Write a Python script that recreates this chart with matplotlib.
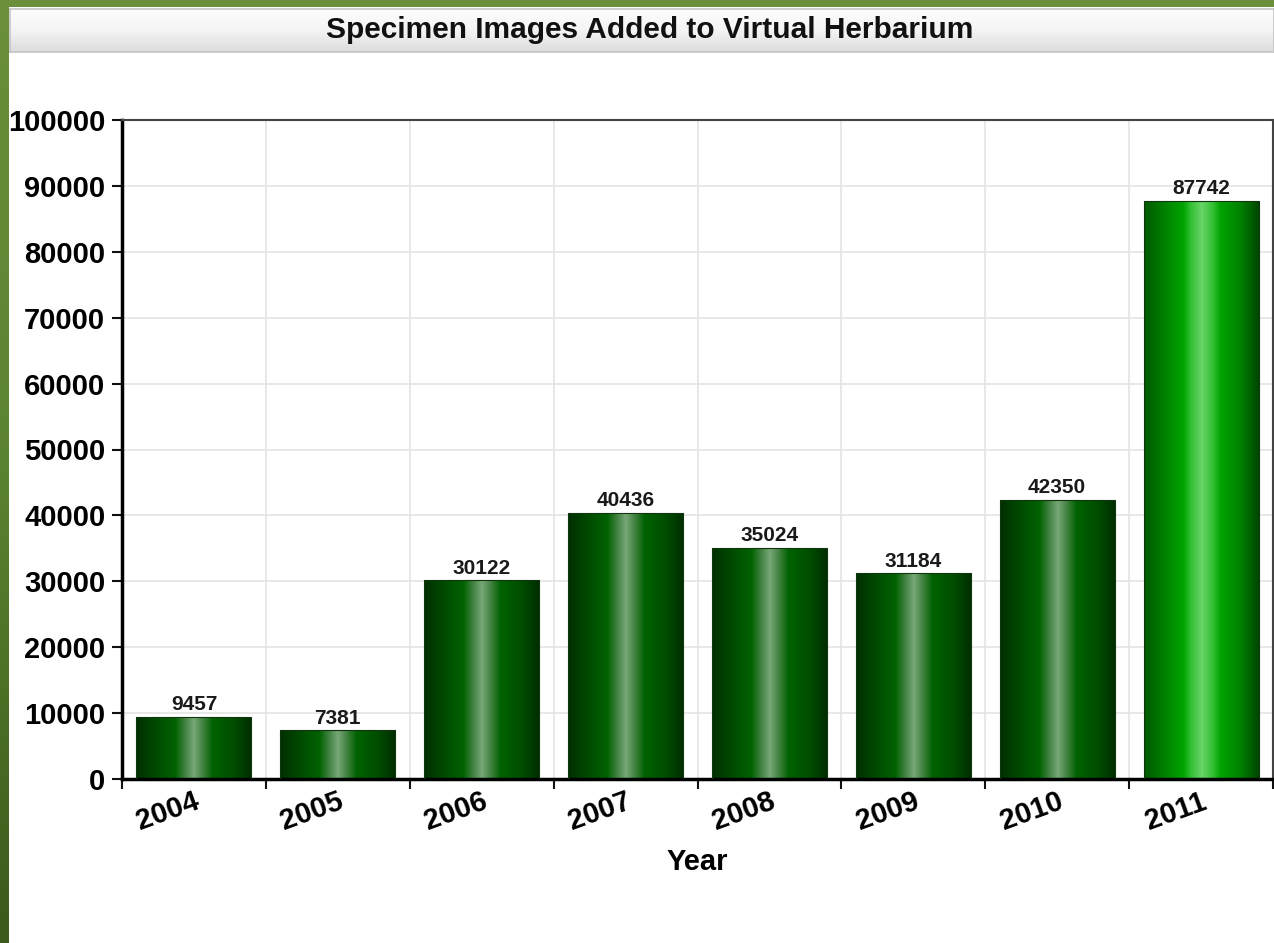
import numpy as np
import matplotlib.pyplot as plt
from matplotlib.colors import LinearSegmentedColormap
from matplotlib.patches import Rectangle

# data
years = ['2004', '2005', '2006', '2007', '2008', '2009', '2010', '2011']
images = [9457, 7381, 30122, 40436, 35024, 31184, 42350, 87742]
y_ticks = list(range(0, 100001, 10000))

plt.rcParams['font.family'] = ['Liberation Sans', 'DejaVu Sans']

W, H = 1274, 943
fig = plt.figure(figsize=(W / 100, H / 100), dpi=100)

# green page frame (left strip + top strip)
frame_cmap = LinearSegmentedColormap.from_list('frame', ['#6b8f3a', '#5a8330', '#3c5a1b'])
edge = fig.add_axes([0, 0, 9 / W, 1])
edge.imshow(np.linspace(0, 1, 200).reshape(-1, 1), aspect='auto', cmap=frame_cmap)
edge.axis('off')
fig.add_artist(Rectangle((0, 1 - 7 / H), 1, 7 / H, transform=fig.transFigure,
                         color='#6b8f3a', lw=0))

# title bar
tbox = fig.add_axes([10 / W, 1 - 52 / H, (W - 10) / W, 43 / H])
title_cmap = LinearSegmentedColormap.from_list('tbar', ['#fdfdfd', '#f4f4f4', '#dcdcdc'])
tbox.imshow(np.linspace(0, 1, 50).reshape(-1, 1), aspect='auto', cmap=title_cmap,
            extent=[0, 1, 0, 1])
tbox.set_xlim(0, 1)
tbox.set_ylim(0, 1)
tbox.set_xticks([])
tbox.set_yticks([])
for s in tbox.spines.values():
    s.set_color('#c4c4c4')
    s.set_linewidth(1.2)
tbox.text(0.506, 0.5, 'Specimen Images Added to Virtual Herbarium', ha='center',
          va='center', fontsize=21.5, fontweight='bold', color='#111111')

# main chart
ax = fig.add_axes([122 / W, 1 - 779 / H, 1151 / W, 659 / H])
x = np.arange(len(years))

bars = ax.bar(x, images, width=0.8, color='none', edgecolor='#103510',
              linewidth=0.8, zorder=3)

dark_cmap = LinearSegmentedColormap.from_list('dark', [
    (0.0, '#002f00'), (0.22, '#005200'), (0.34, '#006200'), (0.42, '#3f803f'),
    (0.5, '#78a878'), (0.58, '#3f803f'), (0.66, '#006200'), (0.84, '#004e00'),
    (1.0, '#002c00')])
bright_cmap = LinearSegmentedColormap.from_list('bright', [
    (0.0, '#005800'), (0.2, '#008600'), (0.34, '#00a400'), (0.4, '#30bf30'),
    (0.5, '#68d468'), (0.6, '#30bf30'), (0.66, '#00a400'), (0.84, '#008000'),
    (1.0, '#004200')])

grad = np.linspace(0, 1, 256).reshape(1, -1)
for i, b in enumerate(bars):
    cm = bright_cmap if years[i] == '2011' else dark_cmap
    im = ax.imshow(grad, aspect='auto', cmap=cm, zorder=2.5,
                   extent=[b.get_x(), b.get_x() + b.get_width(), 0, b.get_height()])
    im.set_clip_path(b)

ax.bar_label(bars, padding=2, fontsize=15, fontweight='bold', color='#1a1a1a')

ax.set_xlim(-0.5, len(years) - 0.5)
ax.set_ylim(0, 100000)

ax.set_xticks(x)
ax.set_xticklabels(years, rotation=20, ha='right', rotation_mode='anchor',
                   fontsize=21, fontweight='bold')
ax.set_xticks(np.arange(-0.5, len(years), 1), minor=True)
ax.tick_params(axis='x', which='major', length=0, pad=6)
ax.tick_params(axis='x', which='minor', length=7, width=1.5, color='#111111')

ax.set_yticks(y_ticks)
ax.set_yticklabels([str(v) for v in y_ticks], fontsize=21, fontweight='bold')
ax.tick_params(axis='y', length=7, width=1.5, pad=5, color='#111111')

ax.grid(True, axis='y', color='#e4e4e4', lw=1.2)
ax.grid(True, axis='x', which='minor', color='#e4e4e4', lw=1.2)
ax.set_axisbelow(True)

ax.set_xlabel('Year', fontsize=21, fontweight='bold', labelpad=9)

ax.spines['left'].set_linewidth(2.5)
ax.spines['bottom'].set_linewidth(2.5)
ax.spines['top'].set_linewidth(1.5)
ax.spines['top'].set_color('#444444')
ax.spines['right'].set_linewidth(1.5)
ax.spines['right'].set_color('#444444')

fig.savefig('out.png', dpi=100)
